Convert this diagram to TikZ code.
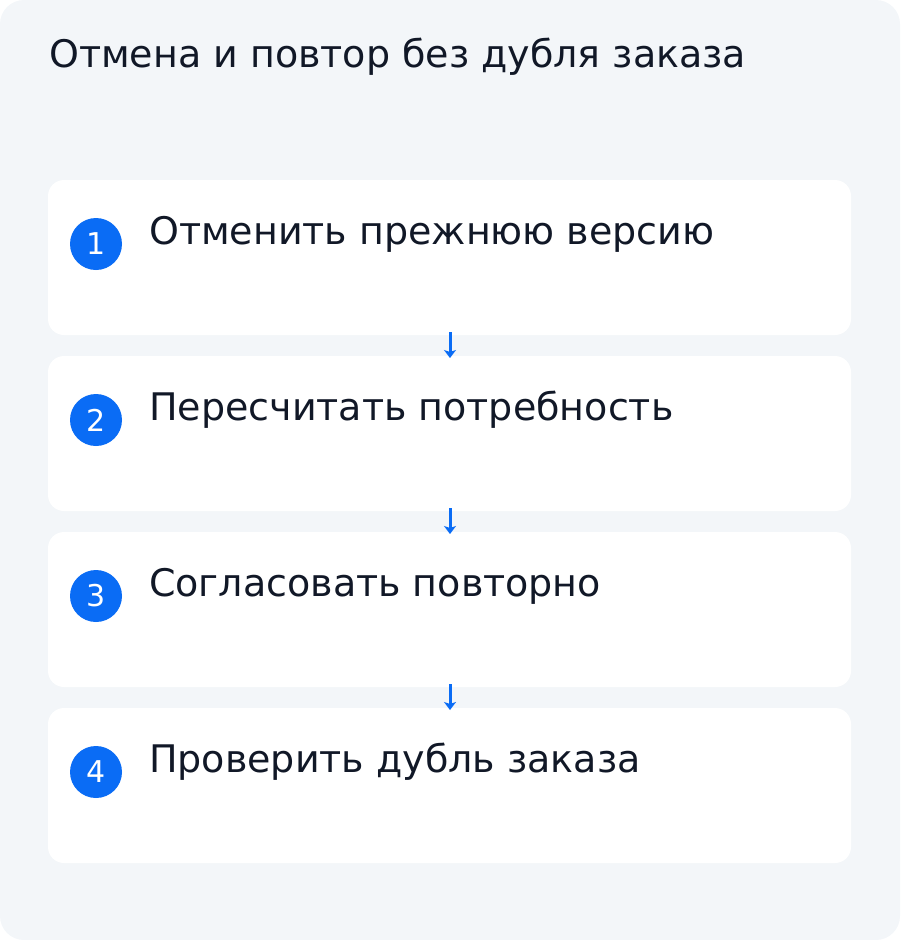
\documentclass[tikz,border=0pt]{standalone}
\usepackage{fontspec}
\setmainfont{DejaVu Sans}
\usetikzlibrary{arrows.meta}
\definecolor{bgc}{HTML}{F3F6F9}
\definecolor{bluec}{HTML}{0A6CF5}
\definecolor{textc}{HTML}{111827}
\begin{document}
\begin{tikzpicture}[x=1pt,y=-1pt,
  stepbox/.style={fill=white,rounded corners=16pt,draw=none},
  numc/.style={circle,fill=bluec,minimum size=52pt,inner sep=0pt,text=white,font=\fontsize{30}{30}\selectfont},
  steptext/.style={anchor=base west,inner sep=0pt,text=textc,font=\fontsize{38}{44}\selectfont},
  flow/.style={draw=bluec,line width=3pt,-{Stealth[length=8pt,width=12pt,inset=2pt]}}]
\useasboundingbox (0,0) rectangle (900,940);
\fill[bgc,rounded corners=24pt] (0,0) rectangle (900,940);
\node[anchor=base west,inner sep=0pt,text=textc,font=\fontsize{38}{44}\selectfont] (title) at (49,67) {Отмена и повтор без дубля заказа};
\foreach \i/\t/\y in {1/Отменить прежнюю версию/180,2/Пересчитать потребность/356,3/Согласовать повторно/532,4/Проверить дубль заказа/708}{
  \path[stepbox] (48,\y) rectangle (851,\y+155);
  \coordinate (top\i) at (450,\y);
  \coordinate (bot\i) at (450,\y+155);
  \node[numc] (n\i) at (96,\y+64) {\i};
  \node[steptext] (s\i) at (149,\y+64) {\t};
}
\draw[flow] ([yshift=3pt]bot1) -- ([yshift=-2pt]top2);
\draw[flow] ([yshift=3pt]bot2) -- ([yshift=-2pt]top3);
\draw[flow] ([yshift=3pt]bot3) -- ([yshift=-2pt]top4);
\end{tikzpicture}
\end{document}
